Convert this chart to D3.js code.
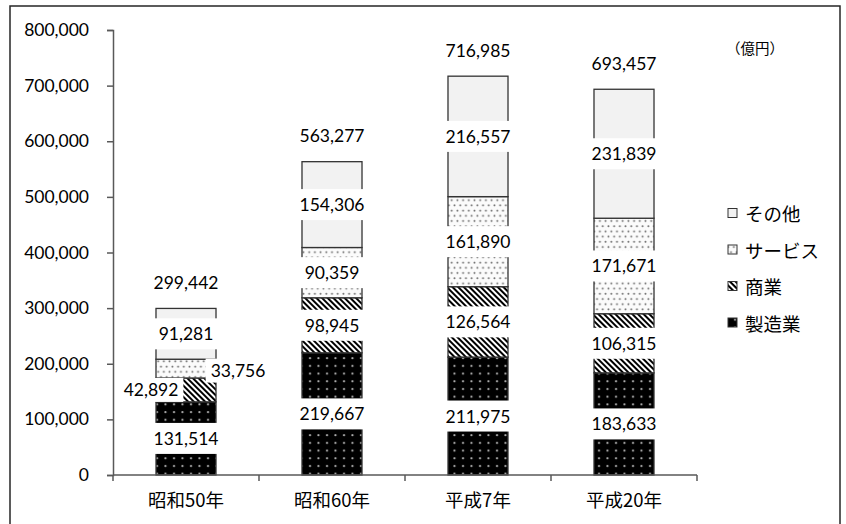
<!DOCTYPE html>
<html><head><meta charset="utf-8">
<script src="https://cdn.jsdelivr.net/npm/d3@7"></script>
<style>body{margin:0;background:#fff}</style>
</head><body><svg id="c" width="846" height="524"></svg>
<script>
// ---- data ----
const categories = ["昭和50年", "昭和60年", "平成7年", "平成20年"];
const seriesNames = ["製造業", "商業", "サービス", "その他"];
const manufacturing = [131514, 219667, 211975, 183633];
const commerce = [42892, 98945, 126564, 106315];
const services = [33756, 90359, 161890, 171671];
const others = [91281, 154306, 216557, 231839];
const totals = [299442, 563277, 716985, 693457];
const yTicks = [0, 100000, 200000, 300000, 400000, 500000, 600000, 700000, 800000];
const legendOrder = ["その他", "サービス", "商業", "製造業"];
const unitLabel = "（億円）";

// ---- layout / style config ----
const numFont = "Lato, 'Liberation Sans', sans-serif";
const jpFont = "'Noto Sans CJK JP', sans-serif";
const fills = {"製造業": "url(#pMfg)", "商業": "url(#pCom)", "サービス": "url(#pSvc)", "その他": "#f2f2f2"};
// manual label displacements (only where reference moved labels)
const labelShift = {"0|商業": {dx: -35, dy: 0, h: 24}, "0|サービス": {dx: 52, dy: 2, h: 24}};

const svg = d3.select("#c");
const defs = svg.append("defs");
// service: light dotted
const ps = defs.append("pattern").attr("id", "pSvc").attr("patternUnits", "userSpaceOnUse").attr("width", 5.7).attr("height", 10.4);
ps.append("rect").attr("width", 5.7).attr("height", 10.4).attr("fill", "#fbfbfb");
ps.append("circle").attr("cx", 1.4).attr("cy", 2.6).attr("r", 1).attr("fill", "#6e6e6e");
ps.append("circle").attr("cx", 4.25).attr("cy", 7.8).attr("r", 1).attr("fill", "#6e6e6e");
// commerce: diagonal hatch
const ph = defs.append("pattern").attr("id", "pCom").attr("patternUnits", "userSpaceOnUse").attr("width", 4).attr("height", 4).attr("patternTransform", "rotate(-45)");
ph.append("rect").attr("width", 4).attr("height", 4).attr("fill", "#fff");
ph.append("rect").attr("width", 2).attr("height", 4).attr("fill", "#000");
// manufacturing: black with grey dots
const pm = defs.append("pattern").attr("id", "pMfg").attr("patternUnits", "userSpaceOnUse").attr("width", 8.5).attr("height", 7.7);
pm.append("rect").attr("width", 8.5).attr("height", 7.7).attr("fill", "#000");
pm.append("circle").attr("cx", 4).attr("cy", 4).attr("r", 1.1).attr("fill", "#b5b5b5");

// outer border
svg.append("rect").attr("x", 10).attr("y", 6).attr("width", 830).attr("height", 530)
  .attr("fill", "none").attr("stroke", "#262626").attr("stroke-width", 1.5);

const x = d3.scaleBand().domain(categories).range([113, 697]).paddingInner(0.589).paddingOuter(0.2945);
const y = d3.scaleLinear().domain([0, 800000]).range([475, 30]);

// stacked data
const table = categories.map((c, i) => ({cat: c, "製造業": manufacturing[i], "商業": commerce[i], "サービス": services[i], "その他": others[i], total: totals[i]}));
const stack = d3.stack().keys(seriesNames)(table);

// bars
const gBars = svg.append("g");
stack.forEach(layer => {
  gBars.selectAll(null).data(layer).enter().append("rect")
    .attr("x", d => x(d.data.cat))
    .attr("width", x.bandwidth())
    .attr("y", d => y(d[1]))
    .attr("height", d => y(d[0]) - y(d[1]))
    .attr("fill", fills[layer.key])
    .attr("stroke", "#333").attr("stroke-width", 1.3);
});

// axes
const axisColor = "#595959";
const gy = svg.append("g").attr("transform", "translate(113,0)")
  .call(d3.axisLeft(y).tickValues(yTicks).tickFormat(d3.format(",")).tickSize(6).tickPadding(18));
gy.select(".domain").attr("stroke", axisColor).attr("stroke-width", 1.5);
gy.selectAll(".tick line").attr("stroke", axisColor).attr("stroke-width", 1.5);
gy.selectAll(".tick text").attr("font-family", numFont).attr("font-size", 17.5).attr("fill", "#000");

const step = x.step();
const boundaries = categories.map(c => x(c) - step * x.paddingInner() / 2).concat([x(categories[categories.length - 1]) + x.bandwidth() + step * x.paddingInner() / 2]);
const gx = svg.append("g");
gx.append("line").attr("x1", 113).attr("x2", 697).attr("y1", 475).attr("y2", 475)
  .attr("stroke", axisColor).attr("stroke-width", 1.5);
gx.selectAll(null).data(boundaries).enter().append("line")
  .attr("x1", d => d).attr("x2", d => d).attr("y1", 475).attr("y2", 481)
  .attr("stroke", axisColor).attr("stroke-width", 1.5);
const gxl = svg.append("g").attr("transform", "translate(0,475)")
  .call(d3.axisBottom(x).tickSize(0).tickPadding(26));
gxl.select(".domain").remove();
gxl.selectAll(".tick text").attr("font-family", jpFont).attr("font-size", 18.5).attr("fill", "#000").attr("dy", "0.35em");

// value labels with white boxes
const gLab = svg.append("g");
function addLabel(cx, cy, txt, h) {
  const g = gLab.append("g");
  const t = g.append("text").attr("x", cx).attr("y", cy).attr("text-anchor", "middle")
    .attr("dominant-baseline", "central").attr("font-family", numFont).attr("font-size", 17.5)
    .attr("fill", "#000").text(txt);
  const w = t.node().getComputedTextLength() + 10;
  g.insert("rect", "text").attr("x", cx - w / 2).attr("y", cy - h / 2).attr("width", w).attr("height", h).attr("fill", "#fff");
}
const fmt = d3.format(",");
stack.forEach(layer => {
  layer.forEach((d, i) => {
    const s = labelShift[i + "|" + layer.key] || {dx: 0, dy: 0, h: 31};
    const cx = x(d.data.cat) + x.bandwidth() / 2 + s.dx;
    const cy = (y(d[0]) + y(d[1])) / 2 + s.dy;
    addLabel(cx, cy, fmt(d[1] - d[0]), s.h);
  });
});
// totals
table.forEach(d => {
  svg.append("text").attr("x", x(d.cat) + x.bandwidth() / 2).attr("y", y(d3.sum(seriesNames, k => d[k])) - 26)
    .attr("text-anchor", "middle").attr("dominant-baseline", "central")
    .attr("font-family", numFont).attr("font-size", 17.5).attr("fill", "#000").text(fmt(d.total));
});

// unit label
svg.append("text").attr("x", 755).attr("y", 47).attr("text-anchor", "middle").attr("dominant-baseline", "central")
  .attr("font-family", jpFont).attr("font-size", 14.5).attr("fill", "#000").text(unitLabel);

// legend
const gLeg = svg.append("g");
legendOrder.forEach((name, i) => {
  const ly = 213 + i * 36.5;
  gLeg.append("rect").attr("x", 728).attr("y", ly - 4.5).attr("width", 9).attr("height", 9)
    .attr("fill", fills[name]).attr("stroke", "#333").attr("stroke-width", 1);
  gLeg.append("text").attr("x", 745).attr("y", ly).attr("dominant-baseline", "central")
    .attr("font-family", jpFont).attr("font-size", 18.5).attr("fill", "#000").text(name);
});
</script></body></html>
